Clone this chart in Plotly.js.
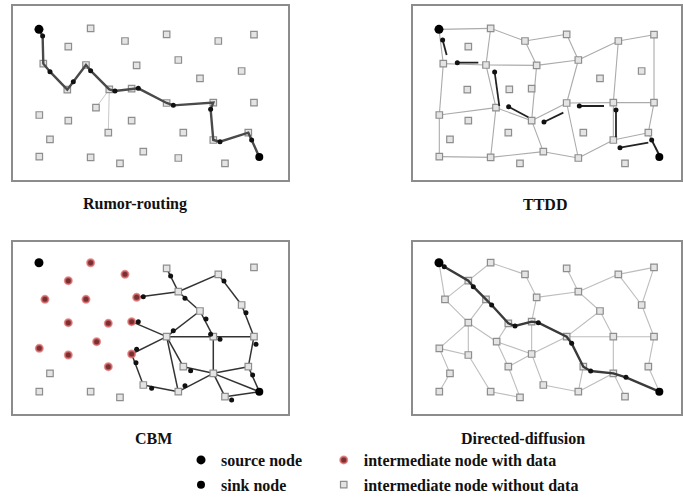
<!DOCTYPE html>
<html><head><meta charset="utf-8">
<script src="https://cdn.plot.ly/plotly-3.0.1.min.js"></script>
<style>html,body{margin:0;padding:0;background:#fff}#chart{width:683px;height:502px}</style>
</head><body><div id="chart"></div><script>
// ===== Top panels: shared sensor field (index 0 = source, 34 = sink) =====
const topNodeX = [117,272,205,375,500,655,762,410,535,600,725,130,258,202,328,395,500,640,640,745,288,118,205,395,762,325,150,550,430,118,272,360,535,675,778];
const topNodeY = [88,85,140,123,103,123,104,196,180,235,213,191,195,269,268,266,309,308,420,398,323,345,362,362,308,398,418,398,455,470,472,490,474,490,471];

// Rumor-routing walk
const rumorPathX = [117,128,130,150,202,220,258,272,328,345,395,415,500,520,640,632,640,660,745,755,778];
const rumorPathY = [88,108,191,215,269,245,195,212,268,273,266,265,309,316,308,328,420,425,398,420,471];
const rumorDotX = [128,150,220,272,345,415,520,632,660,755];
const rumorDotY = [108,215,245,212,273,265,316,328,425,420];
const rumorSideEdges = [[14,20],[14,25]];

// TTDD grid and forwarding arrows
const ttddEdges = [[0,1],[1,3],[3,4],[0,11],[1,12],[11,12],[12,7],[7,8],[8,5],[5,6],[3,7],[4,8],[5,17],[6,24],
  [11,21],[12,20],[7,23],[8,16],[21,20],[20,23],[23,16],[16,17],[17,24],[21,29],[20,30],[23,28],[16,32],
  [17,18],[24,19],[29,30],[30,28],[28,32],[32,18],[18,19],[19,34]];
const ttddTailX = [140,235,298,385,490,612,648,745,778];
const ttddTailY = [165,188,318,352,338,318,412,428,465];
const ttddHeadX = [128,172,284,326,432,538,648,660,755];
const ttddHeadY = [120,188,216,320,366,318,330,443,420];

// ===== Bottom panels: shared sensor field (index 0 = source, 34 = sink) =====
const botNodeX = [117,272,375,500,655,762,205,135,258,410,535,600,725,205,325,395,500,640,762,118,205,290,395,325,150,550,640,745,118,272,360,430,535,675,778];
const botNodeY = [68,68,103,85,103,82,122,178,178,172,155,213,195,248,250,245,290,290,290,325,345,305,342,380,400,380,400,380,455,455,472,435,455,470,455];

// CBM
const cbmDataNodes = [1,2,6,7,8,9,13,14,15,19,20,21,22,23];
const cbmEdges = [[3,10],[10,4],[4,12],[12,18],[9,10],[10,11],[11,17],[15,16],[16,11],[16,17],[17,18],
  [22,16],[16,25],[25,26],[17,26],[22,31],[31,32],[32,16],[32,26],[26,34],[26,27],[27,34],[26,33],[33,34],[18,27]];
const cbmDotX = [512,555,672,738,768,430,618,415,520,660,410,572,408,455,555,758,695,632];
const cbmDotY = [108,175,123,218,313,170,237,245,272,298,328,392,368,445,437,405,480,283];

// Directed diffusion
const ddEdges = [[0,7],[7,6],[6,1],[1,2],[2,9],[9,15],[9,10],[3,10],[10,4],[4,5],[4,12],[5,12],[12,18],[10,11],
  [11,17],[11,16],[7,13],[8,13],[13,19],[13,20],[13,21],[21,14],[21,22],[19,20],[19,24],[20,29],[15,22],[22,16],
  [22,23],[21,23],[23,30],[22,31],[31,32],[32,25],[32,26],[16,17],[17,18],[17,26],[18,27],[27,34],[26,33],[29,30],[24,28]];
const ddPathX = [117,133,205,220,258,275,325,345,395,415,500,515,550,572,640,678,778];
const ddPathY = [68,80,122,140,178,195,250,258,245,248,290,310,380,393,400,412,455];
const ddDotX = [133,220,275,345,415,515,572,678];
const ddDotY = [80,140,195,258,248,310,393,412];

const panelLabels = ['Rumor-routing','TTDD','CBM','Directed-diffusion'];
const legendLabels = ['source node','sink node','intermediate node with data','intermediate node without data'];

// ===== helpers =====
function edgeXY(nx, ny, edges){
  const x=[], y=[];
  edges.forEach(e=>{ x.push(nx[e[0]], nx[e[1]], null); y.push(ny[e[0]], ny[e[1]], null); });
  return {x, y};
}
function segXY(tx, ty, hx, hy){
  const x=[], y=[];
  for(let i=0;i<tx.length;i++){ x.push(tx[i], hx[i], null); y.push(ty[i], hy[i], null); }
  return {x, y};
}
function pick(arr, idx){ return idx.map(i=>arr[i]); }
const topInner = topNodeX.map((_,i)=>i).filter(i=>i!==0 && i!==34);
const botInner = botNodeX.map((_,i)=>i).filter(i=>i!==0 && i!==34);
const cbmPlain = botInner.filter(i=>cbmDataNodes.indexOf(i)<0);

const hollow = {symbol:'square', size:6.5, color:'#e4e4e4', line:{color:'#8e8e8e', width:1.2}};
const srcMk = {symbol:'circle', size:9, color:'#000'};
const sinkMk = {symbol:'circle', size:8, color:'#000'};
const dotMk = {symbol:'circle', size:5, color:'#111'};
const redMk = {symbol:'circle', size:7, color:'#7a2f33', line:{color:'rgba(226,110,110,0.75)', width:2}};

const traces = [];
function add(t){ t.showlegend = !!t.showlegend; t.hoverinfo='skip'; traces.push(t); }

// Panel 1: Rumor routing
let e = edgeXY(topNodeX, topNodeY, rumorSideEdges);
add({x:e.x, y:e.y, xaxis:'x', yaxis:'y', mode:'lines', line:{color:'#c8c8c8', width:1}});
add({x:pick(topNodeX,topInner), y:pick(topNodeY,topInner), xaxis:'x', yaxis:'y', mode:'markers', marker:hollow,
     showlegend:true, name:legendLabels[3], legend:'legend2', legendgroup:'g4', legendrank:4});
add({x:rumorPathX, y:rumorPathY, xaxis:'x', yaxis:'y', mode:'lines', line:{color:'#4a4a4a', width:2.4}});
add({x:rumorDotX, y:rumorDotY, xaxis:'x', yaxis:'y', mode:'markers', marker:dotMk});
add({x:[topNodeX[0]], y:[topNodeY[0]], xaxis:'x', yaxis:'y', mode:'markers', marker:srcMk,
     showlegend:true, name:legendLabels[0], legend:'legend', legendgroup:'g1', legendrank:1});
add({x:[topNodeX[34]], y:[topNodeY[34]], xaxis:'x', yaxis:'y', mode:'markers', marker:sinkMk,
     showlegend:true, name:legendLabels[1], legend:'legend', legendgroup:'g2', legendrank:2});

// Panel 2: TTDD
e = edgeXY(topNodeX, topNodeY, ttddEdges);
add({x:e.x, y:e.y, xaxis:'x2', yaxis:'y2', mode:'lines', line:{color:'#ababab', width:1.1}});
add({x:pick(topNodeX,topInner), y:pick(topNodeY,topInner), xaxis:'x2', yaxis:'y2', mode:'markers', marker:hollow});
e = segXY(ttddTailX, ttddTailY, ttddHeadX, ttddHeadY);
add({x:e.x, y:e.y, xaxis:'x2', yaxis:'y2', mode:'lines', line:{color:'#222', width:1.8}});
add({x:ttddHeadX, y:ttddHeadY, xaxis:'x2', yaxis:'y2', mode:'markers', marker:dotMk});
add({x:[topNodeX[0]], y:[topNodeY[0]], xaxis:'x2', yaxis:'y2', mode:'markers', marker:srcMk});
add({x:[topNodeX[34]], y:[topNodeY[34]], xaxis:'x2', yaxis:'y2', mode:'markers', marker:sinkMk});

// Panel 3: CBM
e = edgeXY(botNodeX, botNodeY, cbmEdges);
add({x:e.x, y:e.y, xaxis:'x3', yaxis:'y3', mode:'lines', line:{color:'#333', width:1.5}});
add({x:pick(botNodeX,cbmPlain), y:pick(botNodeY,cbmPlain), xaxis:'x3', yaxis:'y3', mode:'markers', marker:hollow});
add({x:pick(botNodeX,cbmDataNodes), y:pick(botNodeY,cbmDataNodes), xaxis:'x3', yaxis:'y3', mode:'markers', marker:redMk,
     showlegend:true, name:legendLabels[2], legend:'legend2', legendgroup:'g3', legendrank:3});
add({x:cbmDotX, y:cbmDotY, xaxis:'x3', yaxis:'y3', mode:'markers', marker:dotMk});
add({x:[botNodeX[0]], y:[botNodeY[0]], xaxis:'x3', yaxis:'y3', mode:'markers', marker:srcMk});
add({x:[botNodeX[34]], y:[botNodeY[34]], xaxis:'x3', yaxis:'y3', mode:'markers', marker:sinkMk});

// Panel 4: Directed diffusion
e = edgeXY(botNodeX, botNodeY, ddEdges);
add({x:e.x, y:e.y, xaxis:'x4', yaxis:'y4', mode:'lines', line:{color:'#bdbdbd', width:1.1}});
add({x:pick(botNodeX,botInner), y:pick(botNodeY,botInner), xaxis:'x4', yaxis:'y4', mode:'markers', marker:hollow});
add({x:ddPathX, y:ddPathY, xaxis:'x4', yaxis:'y4', mode:'lines', line:{color:'#3a3a3a', width:2.4}});
add({x:ddDotX, y:ddDotY, xaxis:'x4', yaxis:'y4', mode:'markers', marker:dotMk});
add({x:[botNodeX[0]], y:[botNodeY[0]], xaxis:'x4', yaxis:'y4', mode:'markers', marker:srcMk});
add({x:[botNodeX[34]], y:[botNodeY[34]], xaxis:'x4', yaxis:'y4', mode:'markers', marker:sinkMk});

function ax(domain, range, anchor){
  return {domain, range, anchor, showgrid:false, zeroline:false, showticklabels:false, ticks:'',
          showline:true, mirror:true, linecolor:'#8c8c8c', linewidth:2, fixedrange:true};
}
const W = 683, H = 502;
const dxL = [13.3/W, 288.3/W], dxR = [413.3/W, 681/W];
const dyT = [1-180/H, 1-6/H], dyB = [1-414/H, 1-241.7/H];

const labFont = {family:'Liberation Serif, Times New Roman, serif', size:16, color:'#111', weight:'bold'};
const legFont = {family:'Liberation Serif, Times New Roman, serif', size:16, color:'#111', weight:'bold'};
const labPos = [[135/W, 1-204/H],[545/W, 1-204/H],[153/W, 1-438/H],[523/W, 1-438/H]];

const layout = {
  width:W, height:H, margin:{l:0,r:0,t:0,b:0}, paper_bgcolor:'#fff', plot_bgcolor:'#fff',
  xaxis: ax(dxL,[40,865],'y'),  yaxis: ax(dyT,[540,18],'x'),
  xaxis2:ax(dxR,[40,843],'y2'), yaxis2:ax(dyT,[540,18],'x2'),
  xaxis3:ax(dxL,[40,865],'y3'), yaxis3:ax(dyB,[522,5],'x3'),
  xaxis4:ax(dxR,[40,843],'y4'), yaxis4:ax(dyB,[522,5],'x4'),
  annotations: panelLabels.map((t,i)=>({text:t, xref:'paper', yref:'paper', x:labPos[i][0], y:labPos[i][1],
     xanchor:'center', yanchor:'middle', showarrow:false, font:labFont})),
  legend: {x:0.265, y:0, xanchor:'left', yanchor:'bottom', bgcolor:'rgba(0,0,0,0)', font:legFont,
           traceorder:'grouped', tracegroupgap:1, borderwidth:0},
  legend2:{x:0.474, y:0, xanchor:'left', yanchor:'bottom', bgcolor:'rgba(0,0,0,0)', font:legFont,
           traceorder:'grouped', tracegroupgap:1, borderwidth:0},
  showlegend:true
};
Plotly.newPlot('chart', traces, layout, {staticPlot:true, displayModeBar:false});
</script></body></html>
